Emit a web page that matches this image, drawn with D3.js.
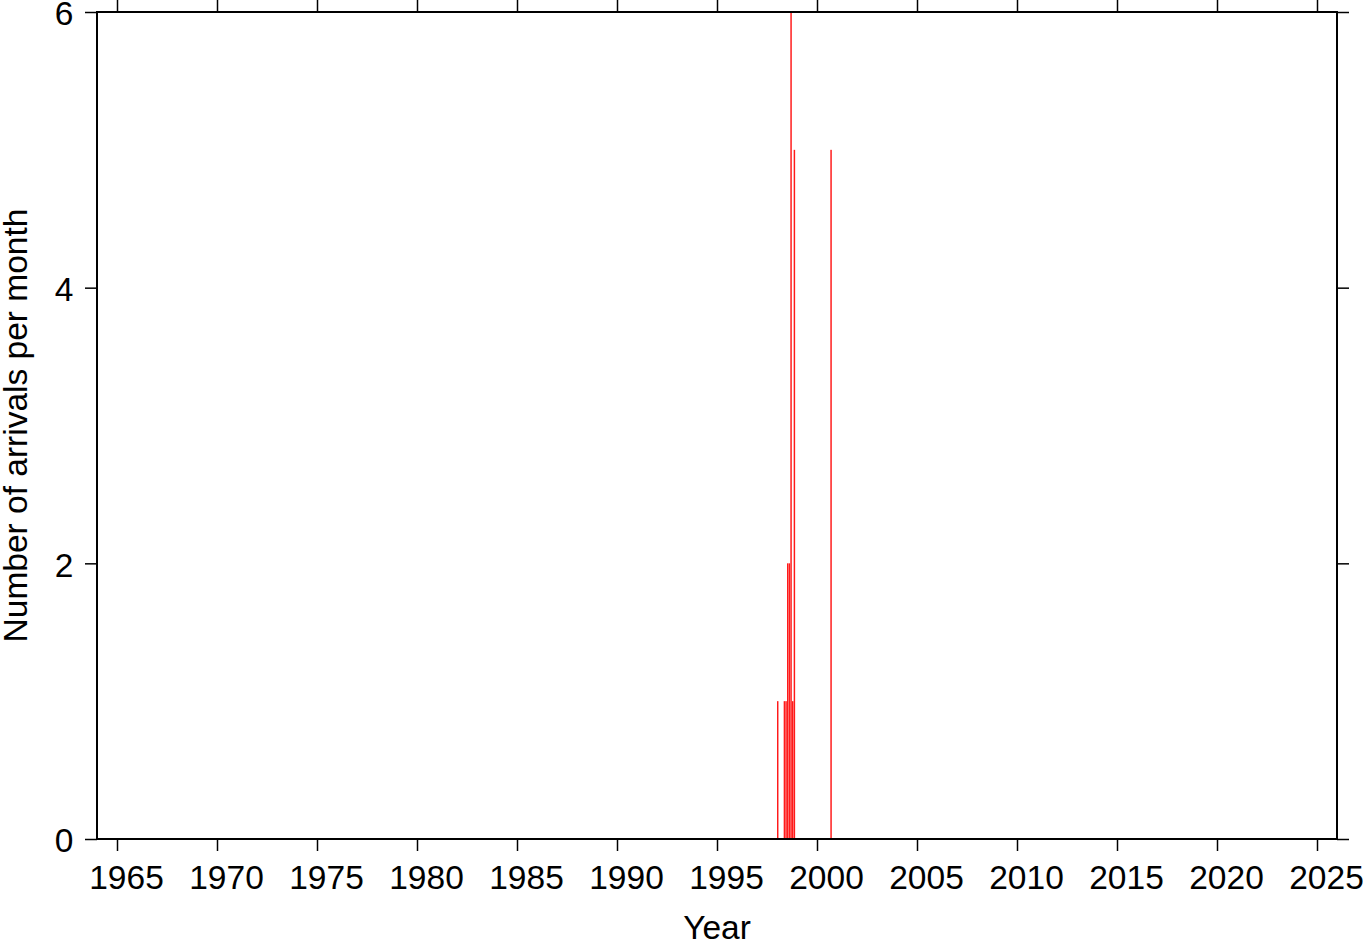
<!DOCTYPE html>
<html>
<head>
<meta charset="utf-8">
<script src="https://cdn.jsdelivr.net/npm/d3@7"></script>
<style>
  html, body { margin: 0; padding: 0; background: #fff; }
  svg { display: block; }
  text { font-family: "Liberation Sans", Arial, Helvetica, sans-serif; fill: #000; }
</style>
</head>
<body>
<svg id="chart" width="1363" height="942"></svg>
<script>
// ---- data ----
const months = ["1998-01", "1998-05", "1998-06", "1998-07", "1998-08", "1998-09", "1998-10", "1998-11", "2000-09"];
const counts = [1, 1, 1, 2, 2, 6, 1, 5, 5];
const xTickYears = [1965, 1970, 1975, 1980, 1985, 1990, 1995, 2000, 2005, 2010, 2015, 2020, 2025];
const yTicks = [0, 2, 4, 6];
const xDomain = [1964, 2026];
const yDomain = [0, 6];
const xLabel = "Year";
const yLabel = "Number of arrivals per month";

// ---- layout ----
const svg = d3.select("#chart");
const L = 97, R = 1337, T = 12, B = 839;
const x = d3.scaleLinear().domain(xDomain).range([L, R]);
const y = d3.scaleLinear().domain(yDomain).range([B, T]);

const toYear = s => { const [yy, mm] = s.split("-").map(Number); return yy + (mm - 1) / 12; };
const bars = months.map((m, i) => ({ t: toYear(m), v: counts[i] }));

// bars
svg.append("g").selectAll("rect").data(bars).enter().append("rect")
  .attr("x", d => x(d.t))
  .attr("y", d => y(d.v))
  .attr("width", d => x(d.t + 1 / 12) - x(d.t) - 0.2)
  .attr("height", d => y(0) - y(d.v))
  .attr("fill", "#ff1a1a");

// axes (ticks outward, no labels on top/right)
const tickLen = 12;
const fs = 33.5;
svg.append("g").attr("transform", `translate(0,${B})`)
  .call(d3.axisBottom(x).tickValues(xTickYears).tickFormat(d3.format("d")).tickSize(tickLen).tickPadding(14))
  .call(g => g.select(".domain").remove())
  .call(g => g.selectAll("line").attr("stroke-width", 1.5))
  .call(g => g.selectAll("text").attr("font-size", fs).attr("dx", 9));

svg.append("g").attr("transform", `translate(0,${T})`)
  .call(d3.axisTop(x).tickValues(xTickYears).tickSize(tickLen).tickFormat(""))
  .call(g => g.select(".domain").remove())
  .call(g => g.selectAll("line").attr("stroke-width", 1.5));

svg.append("g").attr("transform", `translate(${L},0)`)
  .call(d3.axisLeft(y).tickValues(yTicks).tickFormat(d3.format("d")).tickSize(tickLen).tickPadding(11.5))
  .call(g => g.select(".domain").remove())
  .call(g => g.selectAll("line").attr("stroke-width", 1.5))
  .call(g => g.selectAll("text").attr("font-size", fs).attr("dy", "0.38em"));

svg.append("g").attr("transform", `translate(${R},0)`)
  .call(d3.axisRight(y).tickValues(yTicks).tickSize(tickLen).tickFormat(""))
  .call(g => g.select(".domain").remove())
  .call(g => g.selectAll("line").attr("stroke-width", 1.5));

// frame
svg.append("rect")
  .attr("x", L).attr("y", T).attr("width", R - L).attr("height", B - T)
  .attr("fill", "none").attr("stroke", "#000").attr("stroke-width", 2);

// axis titles
svg.append("text")
  .attr("x", (L + R) / 2).attr("y", 939)
  .attr("text-anchor", "middle").attr("font-size", fs)
  .text(xLabel);

svg.append("text")
  .attr("transform", `translate(27,${(T + B) / 2}) rotate(-90)`)
  .attr("text-anchor", "middle").attr("font-size", fs)
  .text(yLabel);
</script>
</body>
</html>
